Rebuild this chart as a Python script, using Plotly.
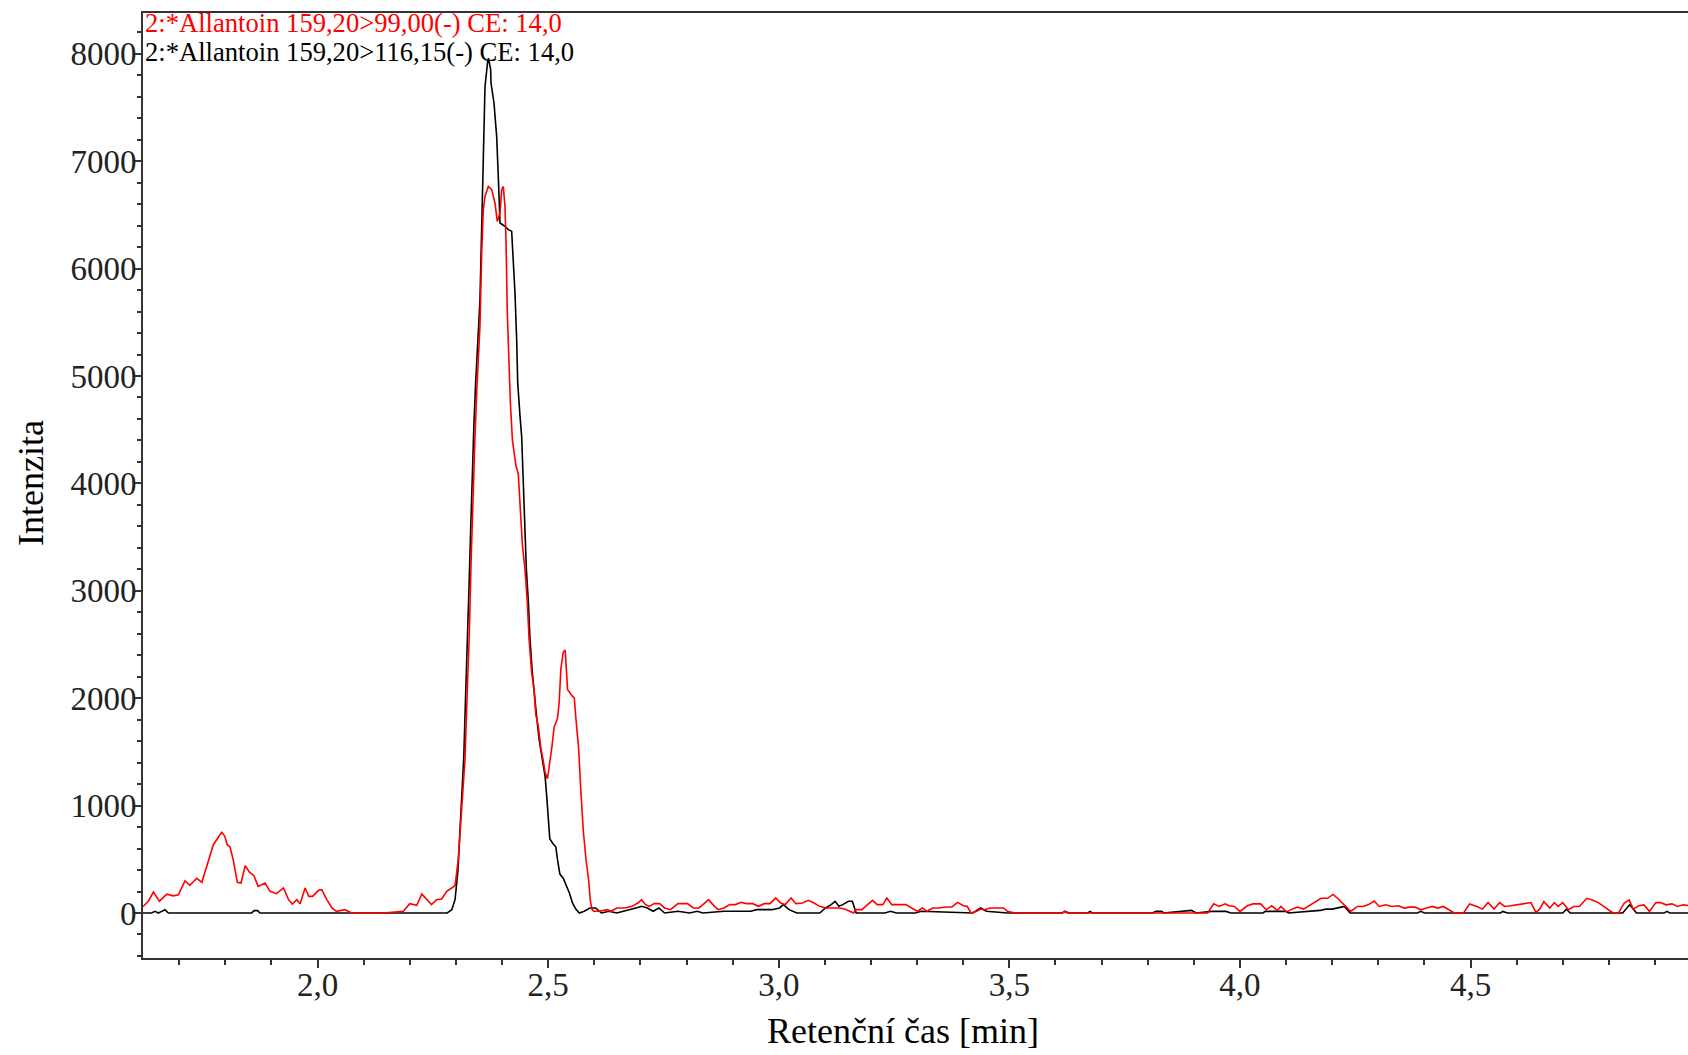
import plotly.graph_objects as go

# Retention time (min) and intensity, transition 159,20 > 99,00
red_time = [
    1.6214, 1.633, 1.644, 1.657, 1.673, 1.687, 1.698, 1.7125, 1.723, 1.738, 1.749, 1.760,
    1.774, 1.785, 1.792, 1.799, 1.804, 1.810, 1.817, 1.826, 1.834, 1.843, 1.852, 1.862,
    1.871, 1.886, 1.897, 1.911, 1.926, 1.937, 1.945, 1.955, 1.962, 1.973, 1.981, 1.989,
    2.002, 2.009, 2.020, 2.031, 2.041, 2.059, 2.074, 2.143, 2.186, 2.200, 2.215, 2.226,
    2.237, 2.247, 2.258, 2.269, 2.280, 2.291, 2.298, 2.305, 2.3124, 2.3196, 2.324, 2.329,
    2.333, 2.337, 2.341, 2.345, 2.349, 2.352, 2.3558, 2.3593, 2.363, 2.3702, 2.3775, 2.3846,
    2.3896, 2.3955, 2.3992, 2.4027, 2.4063, 2.4085, 2.4113, 2.4143, 2.418, 2.4225, 2.430,
    2.4352, 2.4403, 2.444, 2.4497, 2.4548, 2.4586, 2.4642, 2.4694, 2.4731, 2.4788, 2.4839,
    2.489, 2.4934, 2.4985, 2.5035, 2.5079, 2.513, 2.5202, 2.5239, 2.5275, 2.5326, 2.5369,
    2.5399, 2.542, 2.5514, 2.5566, 2.5601, 2.5659, 2.5711, 2.5761, 2.582, 2.5878, 2.5915,
    2.595, 2.5988, 2.6113, 2.6279, 2.6362, 2.6487, 2.6653, 2.6819, 2.6944, 2.7027, 2.711,
    2.7193, 2.7301, 2.7417, 2.7525, 2.765, 2.7816, 2.8023, 2.8148, 2.8272, 2.8355, 2.848,
    2.8605, 2.8688, 2.8812, 2.8937, 2.9061, 2.9186, 2.9311, 2.9435, 2.956, 2.9684, 2.9809,
    2.9934, 3.0042, 3.0141, 3.0266, 3.0374, 3.0515, 3.064, 3.0764, 3.0889, 3.1013, 3.1179,
    3.1304, 3.1429, 3.1553, 3.162, 3.1678, 3.1802, 3.1927, 3.2035, 3.2135, 3.2259, 3.2342,
    3.245, 3.2591, 3.2757, 3.2882, 3.3007, 3.3115, 3.3214, 3.3339, 3.3463, 3.363, 3.3754,
    3.3879, 3.4003, 3.4086, 3.4169, 3.4294, 3.4377, 3.446, 3.4585, 3.4709, 3.4875, 3.4958,
    3.5125, 3.615, 3.620, 3.625, 3.930, 3.943, 3.955, 3.968, 3.976, 3.988, 4.000, 4.016,
    4.028, 4.045, 4.057, 4.069, 4.081, 4.089, 4.101, 4.113, 4.125, 4.138, 4.150, 4.164,
    4.176, 4.190, 4.202, 4.214, 4.227, 4.240, 4.255, 4.267, 4.278, 4.291, 4.302, 4.316,
    4.329, 4.344, 4.356, 4.368, 4.380, 4.392, 4.405, 4.417, 4.429, 4.441, 4.453, 4.465,
    4.485, 4.498, 4.514, 4.526, 4.538, 4.551, 4.563, 4.574, 4.587, 4.603, 4.619, 4.631,
    4.642, 4.650, 4.659, 4.672, 4.682, 4.690, 4.700, 4.712, 4.724, 4.736, 4.752, 4.764,
    4.777, 4.789, 4.797, 4.809, 4.821, 4.833, 4.844, 4.853, 4.865, 4.876, 4.888, 4.902,
    4.912, 4.924, 4.937, 4.949, 4.961, 4.9716,
]
red_intensity = [
    60, 110, 195, 110, 175, 160, 170, 300, 258, 323, 286, 435,
    636, 708, 751, 714, 636, 615, 497, 286, 279, 441, 382, 348,
    248, 279, 202, 180, 233, 124, 84, 124, 87, 233, 155, 155,
    211, 217, 124, 47, 16, 31, 0, 0, 16, 87, 71, 177,
    130, 78, 124, 130, 202, 233, 254, 497, 962, 1428, 2000, 2600,
    3300, 3900, 4400, 4850, 5200, 5462, 6145, 6548, 6672, 6765, 6735, 6611,
    6439, 6517, 6735, 6765, 6579, 6269, 5600, 5200, 4750, 4400, 4166,
    4088, 3741, 3432, 3200, 2892, 2545, 2235, 2081, 1849, 1733, 1540,
    1425, 1308, 1250, 1385, 1540, 1733, 1811, 1965, 2274, 2428, 2448,
    2235, 2081, 2023, 2004, 1811, 1540, 1116, 768, 498, 304, 112,
    34, 16, 16, 31, 16, 47, 47, 62, 93, 124, 78,
    62, 87, 87, 47, 31, 87, 87, 47, 47, 78, 124,
    62, 31, 47, 78, 78, 99, 87, 87, 62, 87, 87,
    140, 93, 78, 140, 87, 93, 118, 93, 62, 47, 47,
    47, 37, 16, 0, 31, 31, 78, 118, 78, 78, 140,
    78, 78, 78, 47, 16, 47, 16, 47, 47, 56, 56,
    99, 68, 62, 0, 16, 37, 31, 47, 47, 47, 16,
    0, 0, 16, 0, 0, 85, 61, 85, 67, 61, 15, 67,
    85, 85, 30, 67, 24, 61, 9, 36, 55, 36, 67, 106,
    137, 137, 173, 128, 76, 15, 61, 61, 76, 112, 61, 76,
    61, 67, 46, 55, 55, 30, 46, 61, 46, 61, 30, 0,
    0, 85, 61, 36, 97, 36, 97, 61, 67, 76, 91, 97,
    6, 36, 106, 46, 97, 61, 97, 30, 61, 61, 137, 122,
    97, 61, 30, 0, 0, 91, 122, 36, 67, 76, 15, 97,
    97, 76, 85, 61, 76, 70,
]

# Retention time (min) and intensity, transition 159,20 > 116,15
black_time = [
    1.6214, 1.640, 1.6474, 1.6546, 1.6619, 1.6691, 1.6763, 1.857, 1.862, 1.870, 1.875,
    2.281, 2.291, 2.298, 2.3041, 2.3085, 2.3136, 2.3171, 2.3208, 2.3244, 2.3281, 2.3318,
    2.3353, 2.339, 2.3427, 2.3464, 2.3499, 2.3521, 2.3558, 2.3593, 2.363, 2.3688, 2.3705,
    2.3753, 2.376, 2.3825, 2.3883, 2.3918, 2.3955, 2.4063, 2.4135, 2.4208, 2.4243, 2.428,
    2.4317, 2.4339, 2.4389, 2.4425, 2.4454, 2.4497, 2.4527, 2.4571, 2.4606, 2.4657, 2.4701,
    2.4744, 2.4803, 2.4876, 2.4934, 2.497, 2.5007, 2.5035, 2.5093, 2.5167, 2.5202, 2.5254,
    2.5326, 2.5384, 2.5458, 2.5529, 2.5603, 2.5675, 2.5781, 2.5905, 2.603, 2.6154, 2.632,
    2.6487, 2.6653, 2.6777, 2.6902, 2.7027, 2.7151, 2.7276, 2.740, 2.7525, 2.7816, 2.8065,
    2.8231, 2.8355, 2.8812, 2.9394, 2.9518, 2.985, 3.0017, 3.010, 3.0224, 3.039, 3.0889,
    3.1013, 3.1138, 3.1221, 3.1304, 3.1387, 3.1512, 3.1595, 3.1678, 3.2301, 3.2425, 3.255,
    3.2965, 3.309, 3.4211, 3.4377, 3.4502, 3.4958, 3.615, 3.620, 3.630, 3.670, 3.675,
    3.680, 3.810, 3.818, 3.830, 3.835, 3.895, 3.905, 3.939, 3.970, 3.980, 4.050, 4.055,
    4.100, 4.105, 4.174, 4.186, 4.200, 4.2265, 4.239, 4.385, 4.392, 4.400, 4.565, 4.570,
    4.580, 4.700, 4.708, 4.716, 4.830, 4.845, 4.860, 4.920, 4.926, 4.932, 4.9716,
]
black_intensity = [
    0, 0, 15, 0, 15, 31, 0, 0, 22, 22, 0,
    0, 31, 124, 382, 729, 1077, 1463, 2004, 2428, 3007, 3548,
    4088, 4552, 4938, 5247, 5556, 5710, 6378, 7107, 7696, 7929, 7960,
    7852, 7728, 7542, 7231, 6859, 6425, 6394, 6363, 6348, 6114, 5773,
    5338, 4938, 4629, 4436, 4088, 3587, 3200, 2892, 2545, 2235, 2004,
    1849, 1617, 1425, 1270, 1077, 845, 691, 652, 614, 498, 362,
    324, 266, 189, 92, 34, 0, 16, 47, 47, 0, 16,
    0, 16, 31, 47, 62, 47, 16, 47, 0, 16, 0,
    16, 0, 16, 16, 31, 31, 47, 78, 31, 0, 0,
    47, 78, 109, 62, 78, 109, 109, 0, 0, 16, 0,
    0, 16, 0, 47, 16, 0, 0, 15, 0, 0, 15,
    0, 0, 15, 15, 0, 24, 0, 15, 15, 0, 0, 15,
    15, 0, 24, 36, 36, 61, 0, 0, 15, 0, 0, 15,
    0, 0, 36, 0, 0, 76, 0, 0, 15, 0, 0,
]

trace_labels = [
    "2:*Allantoin 159,20>99,00(-) CE: 14,0",
    "2:*Allantoin 159,20>116,15(-) CE: 14,0",
]

x_range = [1.6214, 4.9716]
y_range = [-419, 8380]

axis_color = "#333333"
serif = "Liberation Serif, Times New Roman, serif"

fig = go.Figure()
fig.add_trace(go.Scatter(x=black_time, y=black_intensity, mode="lines",
                         line=dict(color="#000000", width=1.6), name=trace_labels[1]))
fig.add_trace(go.Scatter(x=red_time, y=red_intensity, mode="lines",
                         line=dict(color="#ff0000", width=1.6), name=trace_labels[0]))

fig.update_layout(
    width=1688, height=1055,
    margin=dict(l=143, r=0, t=13, b=97, autoexpand=False),
    paper_bgcolor="white", plot_bgcolor="white",
    showlegend=False,
    separators=",.",
    xaxis=dict(
        range=x_range, showgrid=False, zeroline=False,
        showline=True, linecolor=axis_color, linewidth=2, mirror=True,
        ticks="outside", ticklen=8, tickwidth=1.5, tickcolor=axis_color,
        tick0=0, dtick=0.5, tickformat=".1f", ticklabelstandoff=-12,
        tickfont=dict(family=serif, size=33, color="#222222"),
        minor=dict(ticks="outside", dtick=0.1, tick0=0, ticklen=5,
                   tickwidth=1.5, tickcolor=axis_color),
    ),
    yaxis=dict(
        range=y_range, showgrid=False, zeroline=False,
        showline=True, linecolor=axis_color, linewidth=2,
        ticks="outside", ticklen=7, tickwidth=1.5, tickcolor=axis_color,
        tick0=0, dtick=1000, tickformat="d", ticklabelstandoff=-9,
        tickfont=dict(family=serif, size=33, color="#222222"),
        minor=dict(ticks="outside", dtick=200, tick0=0, ticklen=4,
                   tickwidth=1.5, tickcolor=axis_color),
    ),
)

# Trace labels in the top-left corner of the plot
fig.add_annotation(xref="paper", yref="paper", x=0, y=0.9894, xanchor="left", yanchor="middle",
                   text=trace_labels[0], showarrow=False,
                   font=dict(family=serif, size=26.6, color="#ff0000"))
fig.add_annotation(xref="paper", yref="paper", x=0, y=0.9583, xanchor="left", yanchor="middle",
                   text=trace_labels[1], showarrow=False,
                   font=dict(family=serif, size=26.6, color="#000000"))

# Axis titles
fig.add_annotation(xref="paper", yref="paper", x=0.4917, y=-0.0772, xanchor="center", yanchor="middle",
                   text="Retenční čas [min]", showarrow=False,
                   font=dict(family=serif, size=36, color="#000000"))
fig.add_annotation(xref="paper", yref="paper", x=-0.0725, y=0.5026, xanchor="center", yanchor="middle",
                   text="Intenzita", textangle=-90, showarrow=False,
                   font=dict(family=serif, size=36, color="#000000"))

fig.write_html("out.html")
